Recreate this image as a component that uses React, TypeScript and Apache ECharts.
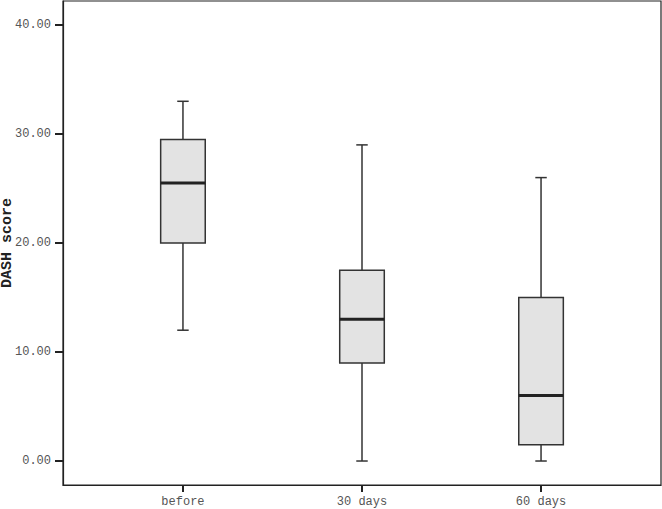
import React, { useEffect, useRef } from "react";
import * as echarts from "echarts";

const categories = ["before", "30 days", "60 days"];
const mins = [12, 0, 0];
const q1s = [20, 9, 1.5];
const medians = [25.5, 13, 6];
const q3s = [29.5, 17.5, 15];
const maxs = [33, 29, 26];
const yTicks = [0, 10, 20, 30, 40];

export default function App() {
  const ref = useRef<HTMLDivElement>(null);
  useEffect(() => {
    if (!ref.current) return;
    const chart = echarts.init(ref.current, null, { renderer: "svg" });
    const data = categories.map((c, i) => [i + 1, mins[i], q1s[i], medians[i], q3s[i], maxs[i]]);
    const xPos = categories.map((_, i) => i + 1);
    chart.setOption({
      animation: false,
      backgroundColor: "#ffffff",
      grid: {
        left: 63,
        right: 1,
        top: 1,
        bottom: 24,
        containLabel: false,
        outerBoundsMode: "none",
        show: true,
        borderColor: "#222",
        borderWidth: 1.2,
        backgroundColor: "transparent",
      },
      xAxis: {
        type: "value",
        min: 0.33,
        max: 3.67,
        splitLine: { show: false },
        axisLine: { show: true, onZero: false, lineStyle: { color: "#222", width: 1.2 } },
        axisTick: { show: true, customValues: xPos, length: 7, lineStyle: { color: "#222", width: 2 } },
        axisLabel: {
          customValues: xPos,
          formatter: (v: number) => categories[Math.round(v) - 1] ?? "",
          fontFamily: "Liberation Mono",
          fontSize: 12,
          color: "#555",
          margin: 11,
        },
      },
      yAxis: {
        type: "value",
        min: -2.2,
        max: 42.2,
        name: "DASH score",
        nameLocation: "middle",
        nameGap: 48,
        nameMoveOverlap: false,
        nameTextStyle: { fontFamily: "Liberation Mono", fontWeight: "bold", fontSize: 15, color: "#222" },
        splitLine: { show: false },
        axisLine: { show: true, onZero: false, lineStyle: { color: "#222", width: 1.2 } },
        axisTick: { show: true, customValues: yTicks, length: 8, lineStyle: { color: "#222", width: 2 } },
        axisLabel: {
          customValues: yTicks,
          formatter: (v: number) => v.toFixed(2),
          fontFamily: "Liberation Mono",
          fontSize: 12,
          color: "#555",
          margin: 12,
        },
      },
      series: [
        {
          type: "custom",
          data,
          renderItem: (params: any, api: any) => {
            const x = api.value(0);
            const pMin = api.coord([x, api.value(1)]);
            const pQ1 = api.coord([x, api.value(2)]);
            const pMed = api.coord([x, api.value(3)]);
            const pQ3 = api.coord([x, api.value(4)]);
            const pMax = api.coord([x, api.value(5)]);
            const bw = api.size([0.249, 0])[0];
            const cw = api.size([0.064, 0])[0];
            const cx = pMed[0];
            const lineStyle = { stroke: "#333", lineWidth: 1.5, fill: null };
            return {
              type: "group",
              children: [
                { type: "line", shape: { x1: cx, y1: pMax[1], x2: cx, y2: pQ3[1] }, style: lineStyle },
                { type: "line", shape: { x1: cx, y1: pQ1[1], x2: cx, y2: pMin[1] }, style: lineStyle },
                { type: "line", shape: { x1: cx - cw / 2, y1: pMax[1], x2: cx + cw / 2, y2: pMax[1] }, style: lineStyle },
                { type: "line", shape: { x1: cx - cw / 2, y1: pMin[1], x2: cx + cw / 2, y2: pMin[1] }, style: lineStyle },
                {
                  type: "rect",
                  shape: { x: cx - bw / 2, y: pQ3[1], width: bw, height: pQ1[1] - pQ3[1] },
                  style: { fill: "#e3e3e3", stroke: "#333", lineWidth: 1.5 },
                },
                { type: "line", shape: { x1: cx - bw / 2, y1: pMed[1], x2: cx + bw / 2, y2: pMed[1] }, style: { stroke: "#222", lineWidth: 3 } },
              ],
            };
          },
        },
      ],
    });
    return () => chart.dispose();
  }, []);
  return <div ref={ref} style={{ position: "fixed", left: 0, top: 0, width: 662, height: 509 }} />;
}
